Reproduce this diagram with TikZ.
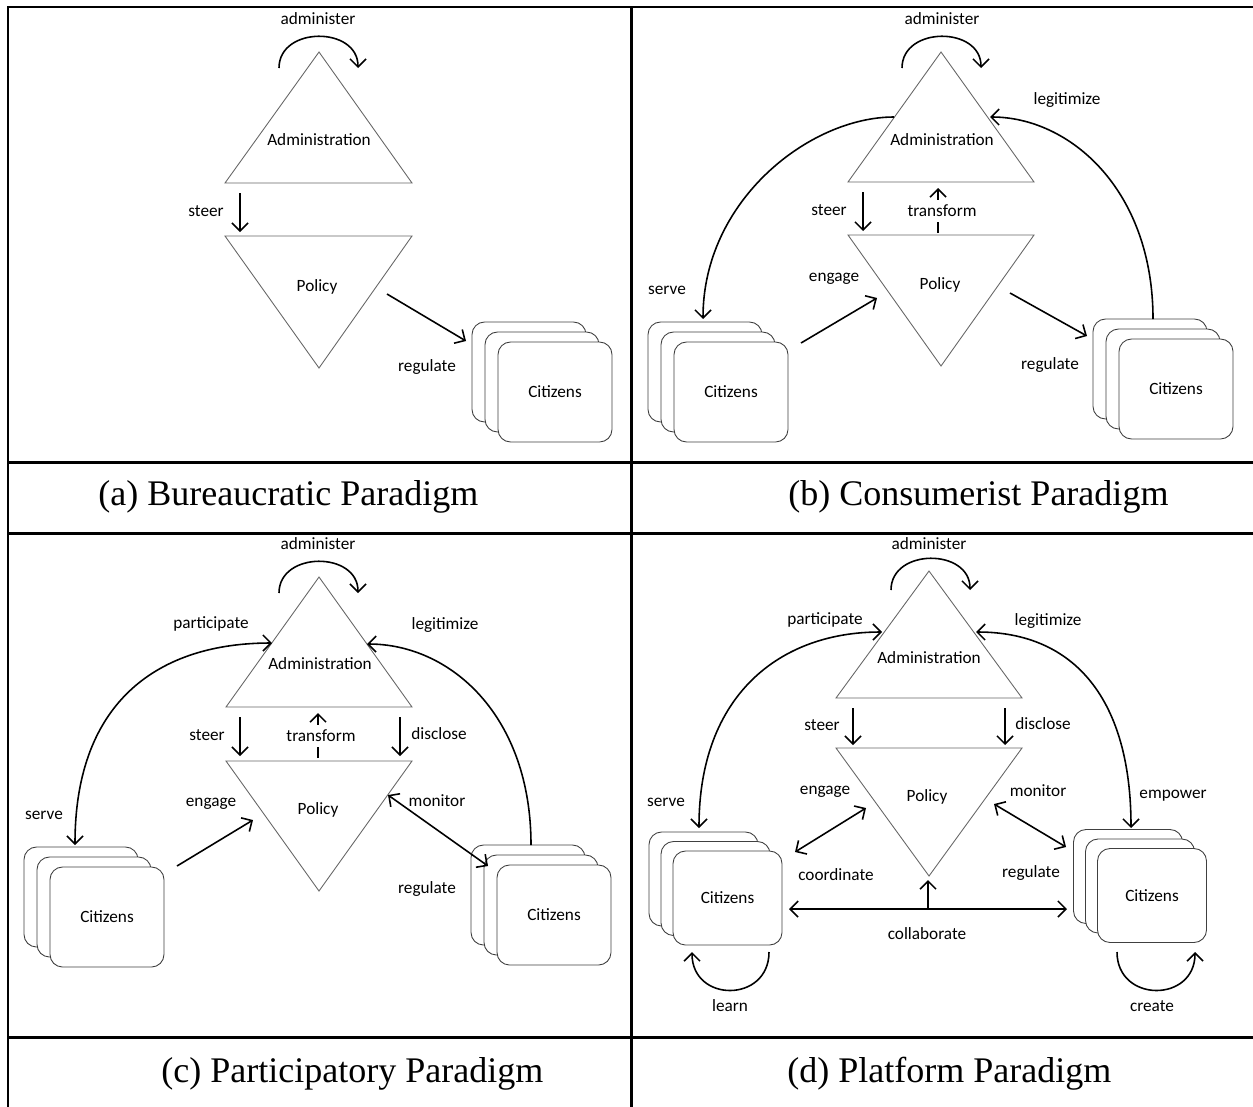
\documentclass[tikz,border=0pt]{standalone}
\usepackage{fontspec}
\setmainfont{Carlito}
\newfontfamily\capfont{Liberation Serif}
\usepackage{tikz}
\usetikzlibrary{arrows.meta}
\tikzstyle{arrow} = [line width=0.9pt,->,>={Straight Barb[length=1.6mm,width=3.2mm]}]
\tikzstyle{twoway} = [arrow,<->]
\tikzstyle{tri} = [draw=black!60,line width=0.5pt]
\tikzstyle{lbl} = [font=\fontsize{9.8}{11}\selectfont,inner sep=1pt]
\tikzstyle{citbox} = [draw=black!75,fill=white,line width=0.5pt,rounded corners=0.25cm,minimum width=2.28cm,minimum height=2cm,inner sep=0pt,font=\fontsize{9.8}{11}\selectfont]
\tikzstyle{smallbox} = [citbox,minimum width=2.18cm,minimum height=1.88cm]
\tikzstyle{rule} = [line width=1.7pt]
\tikzstyle{caption} = [font=\capfont\fontsize{20.5}{24}\selectfont,anchor=west,inner sep=0pt]

\begin{document}
\begin{tikzpicture}[x=0.02cm,y=-0.02cm]
			\useasboundingbox (0,0) rectangle (1253,1106);
			%table rules
			\draw[rule] (8,7) -- (1254,7);
			\draw[rule] (8,462) -- (1254,462);
			\draw[rule] (8,533) -- (1254,533);
			\draw[rule] (8,1037) -- (1254,1037);
			\draw[rule] (8,6) -- (8,1107);
			\draw[rule] (631,6) -- (631,1107);
			\node[caption] (capA) at (98,497) {(a) Bureaucratic Paradigm};
			\node[caption] (capB) at (788,497) {(b) Consumerist Paradigm};
			\node[caption] (capC) at (161,1074) {(c) Participatory Paradigm};
			\node[caption] (capD) at (787,1074) {(d) Platform Paradigm};
			
			%(a) bureaucratic
			\draw[tri] (225,183) -- (319,52) -- (412,183) -- cycle;
			\draw[tri] (225,236) -- (412,236) -- (319,368) -- cycle;
			\node[lbl] (aAdm) at (319,140) {Administration};
			\node[lbl] (aPol) at (317,287) {Policy};
			\node[citbox] (aCit3) at (529,372) {};
			\node[citbox] (aCit2) at (542,382) {};
			\node[citbox] (aCit1) at (555,392) {Citizens};
			\coordinate (aLoopA) at (279,68);
			\coordinate (aLoopB) at (358,68);
			\coordinate (aSteerA) at (240,193);
			\coordinate (aSteerB) at (240,232);
			\coordinate (aRegA) at (387,294);
			\coordinate (aRegB) at (466,341);
			\draw[arrow] (aLoopA) .. controls (279,26) and (358,26) .. (aLoopB);
			\draw[arrow] (aSteerA) -- (aSteerB);
			\draw[arrow] (aRegA) -- (aRegB);
			\node[lbl] (aAdmTxt) at (318,19) {administer};
			\node[lbl] (aSteerTxt) at (206,211) {steer};
			\node[lbl] (aRegTxt) at (427,367) {regulate};
			
			%(b) consumerist
			\draw[tri] (848,182) -- (941,52) -- (1034,182) -- cycle;
			\draw[tri] (848,235) -- (1034,235) -- (941,366) -- cycle;
			\node[lbl] (bAdm) at (942,140) {Administration};
			\node[lbl] (bPol) at (940,285) {Policy};
			\node[citbox] (bCitL3) at (705,372) {};
			\node[citbox] (bCitL2) at (718,382) {};
			\node[citbox] (bCitL1) at (731,392) {Citizens};
			\node[citbox] (bCitR3) at (1150,369) {};
			\node[citbox] (bCitR2) at (1163,379) {};
			\node[citbox] (bCitR1) at (1176,389) {Citizens};
			\coordinate (bLoopA) at (902,68);
			\coordinate (bLoopB) at (981,68);
			\coordinate (bSteerA) at (863,192);
			\coordinate (bSteerB) at (863,231);
			\coordinate (bTrA) at (938,233);
			\coordinate (bTrB) at (938,188);
			\coordinate (bServeA) at (894,117);
			\coordinate (bServeB) at (703,319);
			\coordinate (bLegA) at (1153,319);
			\coordinate (bLegB) at (990,117);
			\coordinate (bEngA) at (801,343);
			\coordinate (bEngB) at (877,298);
			\coordinate (bRegA) at (1010,293);
			\coordinate (bRegB) at (1087,336);
			\draw[arrow] (bLoopA) .. controls (902,26) and (981,26) .. (bLoopB);
			\draw[arrow] (bSteerA) -- (bSteerB);
			\draw[arrow] (bTrA) -- (bTrB);
			\draw[arrow] (bServeA) .. controls (810,117) and (703,200) .. (bServeB);
			\draw[arrow] (bLegA) .. controls (1153,190) and (1070,117) .. (bLegB);
			\draw[arrow] (bEngA) -- (bEngB);
			\draw[arrow] (bRegA) -- (bRegB);
			\node[lbl] (bAdmTxt) at (942,19) {administer};
			\node[lbl] (bSteerTxt) at (829,210) {steer};
			\node[lbl,fill=white,inner sep=3pt] (bTrTxt) at (942,211) {transform};
			\node[lbl] (bServeTxt) at (667,290) {serve};
			\node[lbl] (bLegTxt) at (1067,100) {legitimize};
			\node[lbl] (bEngTxt) at (834,279) {engage};
			\node[lbl] (bRegTxt) at (1050,365) {regulate};
			
			%(c) participatory
			\draw[tri] (226,707) -- (319,577) -- (412,707) -- cycle;
			\draw[tri] (226,761) -- (412,761) -- (319,891) -- cycle;
			\node[lbl] (cAdm) at (320,664) {Administration};
			\node[lbl] (cPol) at (318,810) {Policy};
			\node[citbox] (cCitL3) at (81,897) {};
			\node[citbox] (cCitL2) at (94,907) {};
			\node[citbox] (cCitL1) at (107,917) {Citizens};
			\node[citbox] (cCitR3) at (528,895) {};
			\node[citbox] (cCitR2) at (541,905) {};
			\node[citbox] (cCitR1) at (554,915) {Citizens};
			\coordinate (cLoopA) at (279,593);
			\coordinate (cLoopB) at (358,593);
			\coordinate (cSteerA) at (240,717);
			\coordinate (cSteerB) at (240,756);
			\coordinate (cTrA) at (318,758);
			\coordinate (cTrB) at (318,713);
			\coordinate (cDisA) at (400,717);
			\coordinate (cDisB) at (400,756);
			\coordinate (cPartA) at (75,845);
			\coordinate (cPartB) at (272,643);
			\coordinate (cLegA) at (531,845);
			\coordinate (cLegB) at (367,644);
			\coordinate (cEngA) at (177,866);
			\coordinate (cEngB) at (253,820);
			\coordinate (cMonA) at (388,795);
			\coordinate (cMonB) at (488,866);
			\draw[arrow] (cLoopA) .. controls (279,551) and (358,551) .. (cLoopB);
			\draw[arrow] (cSteerA) -- (cSteerB);
			\draw[arrow] (cTrA) -- (cTrB);
			\draw[arrow] (cDisA) -- (cDisB);
			\draw[twoway] (cPartA) .. controls (75,700) and (160,643) .. (cPartB);
			\draw[arrow] (cLegA) .. controls (531,715) and (450,644) .. (cLegB);
			\draw[arrow] (cEngA) -- (cEngB);
			\draw[twoway] (cMonA) -- (cMonB);
			\node[lbl] (cAdmTxt) at (318,544) {administer};
			\node[lbl] (cSteerTxt) at (207,735) {steer};
			\node[lbl,fill=white,inner sep=3pt] (cTrTxt) at (321,736) {transform};
			\node[lbl] (cDisTxt) at (439,734) {disclose};
			\node[lbl] (cPartTxt) at (211,624) {participate};
			\node[lbl] (cServeTxt) at (44,815) {serve};
			\node[lbl] (cLegTxt) at (445,625) {legitimize};
			\node[lbl] (cEngTxt) at (211,804) {engage};
			\node[lbl] (cMonTxt) at (437,801) {monitor};
			\node[lbl] (cRegTxt) at (427,889) {regulate};
			
			%(d) platform
			\draw[tri] (836,698) -- (929,571) -- (1022,698) -- cycle;
			\draw[tri] (836,748) -- (1022,748) -- (929,876) -- cycle;
			\node[lbl] (dAdm) at (929,658) {Administration};
			\node[lbl] (dPol) at (927,797) {Policy};
			\node[smallbox] (dCitL3) at (703.5,879) {};
			\node[smallbox] (dCitL2) at (715.5,888.5) {};
			\node[smallbox] (dCitL1) at (727.5,898) {Citizens};
			\node[smallbox] (dCitR3) at (1128,876.5) {};
			\node[smallbox] (dCitR2) at (1140,886) {};
			\node[smallbox] (dCitR1) at (1152,895.5) {Citizens};
			\coordinate (dLoopA) at (891,590);
			\coordinate (dLoopB) at (970,590);
			\coordinate (dSteerA) at (853,708);
			\coordinate (dSteerB) at (853,745);
			\coordinate (dDisA) at (1005,708);
			\coordinate (dDisB) at (1005,745);
			\coordinate (dPartA) at (699,828);
			\coordinate (dPartB) at (882,632);
			\coordinate (dLegA) at (976,632);
			\coordinate (dLegB) at (1131,828);
			\coordinate (dEngA) at (795,852);
			\coordinate (dEngB) at (866,808);
			\coordinate (dMonA) at (994,804);
			\coordinate (dMonB) at (1066,847);
			\coordinate (dColA) at (789,909);
			\coordinate (dColB) at (1067,909);
			\coordinate (dColM) at (928,909);
			\coordinate (dColT) at (928,880);
			\coordinate (dLearnA) at (769,952);
			\coordinate (dLearnB) at (692,952);
			\coordinate (dCreateA) at (1117,952);
			\coordinate (dCreateB) at (1195,952);
			\draw[arrow] (dLoopA) .. controls (891,548) and (970,548) .. (dLoopB);
			\draw[arrow] (dSteerA) -- (dSteerB);
			\draw[arrow] (dDisA) -- (dDisB);
			\draw[twoway] (dPartA) .. controls (699,695) and (780,632) .. (dPartB);
			\draw[twoway] (dLegA) .. controls (1075,632) and (1131,700) .. (dLegB);
			\draw[twoway] (dEngA) -- (dEngB);
			\draw[twoway] (dMonA) -- (dMonB);
			\draw[twoway] (dColA) -- (dColB);
			\draw[arrow] (dColM) -- (dColT);
			\draw[arrow] (dLearnA) .. controls (769,1003) and (692,1003) .. (dLearnB);
			\draw[arrow] (dCreateA) .. controls (1117,1003) and (1195,1003) .. (dCreateB);
			\node[lbl] (dAdmTxt) at (929,544) {administer};
			\node[lbl] (dSteerTxt) at (822,725) {steer};
			\node[lbl] (dDisTxt) at (1043,724) {disclose};
			\node[lbl] (dPartTxt) at (825,620) {participate};
			\node[lbl] (dServeTxt) at (666,802) {serve};
			\node[lbl] (dLegTxt) at (1048,621) {legitimize};
			\node[lbl] (dEmpTxt) at (1173,796) {empower};
			\node[lbl] (dEngTxt) at (825,792) {engage};
			\node[lbl] (dCoordTxt) at (836,875) {coordinate};
			\node[lbl] (dMonTxt) at (1038,791) {monitor};
			\node[lbl] (dRegTxt) at (1031,873) {regulate};
			\node[lbl] (dColTxt) at (927,934) {collaborate};
			\node[lbl] (dLearnTxt) at (730,1006) {learn};
			\node[lbl] (dCreateTxt) at (1152,1006) {create};
			
		\end{tikzpicture}
\end{document}
